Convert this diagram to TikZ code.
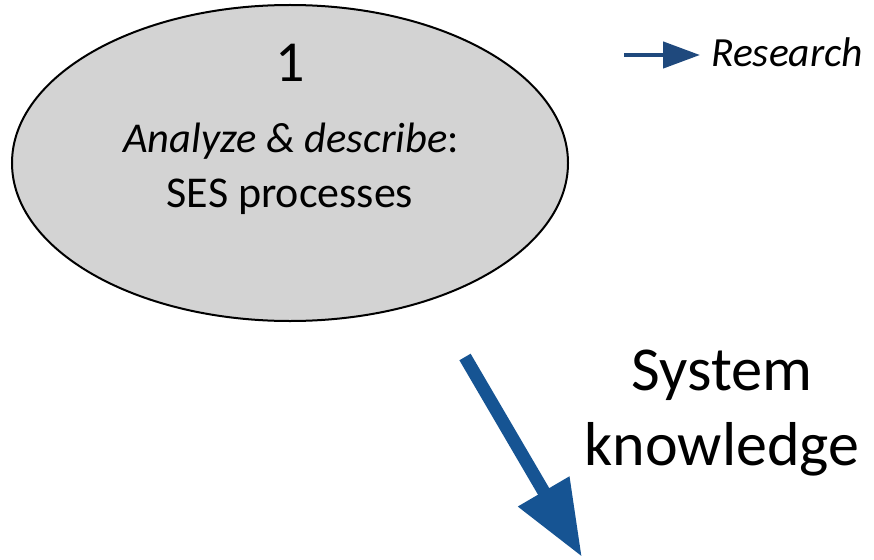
\documentclass[tikz,border=0pt]{standalone}
\usepackage{fontspec}
\setmainfont{Carlito}
\usetikzlibrary{arrows.meta}
\definecolor{ellfill}{RGB}{211,211,211}
\definecolor{bigblue}{RGB}{22,84,147}
\definecolor{legblue}{RGB}{31,73,125}
\tikzset{
  txt/.style={anchor=base, inner sep=0pt, text=black},
  bigarrow/.style={draw=bigblue, line width=13pt, -{Triangle[length=76pt,width=56pt]}},
  legarrow/.style={draw=legblue, line width=4.5pt, -{Triangle[length=37pt,width=26pt]}},
}
\begin{document}
\begin{tikzpicture}[x=1pt,y=-1pt]
\useasboundingbox (0,0) rectangle (874,559);
% ellipse
\draw[line width=2pt, fill=ellfill] (290,163) ellipse [x radius=278, y radius=158];
\node (one) [txt, font=\fontsize{58}{60}\selectfont] at (290,82) {1};
\node (ana) [txt, font=\fontsize{42.5}{46}\selectfont] at (291,152) {\textit{Analyze \& describe}:};
\node (ses) [txt, font=\fontsize{44}{46}\selectfont] at (290,207) {SES processes};
% legend
\coordinate (ls) at (624,55);
\coordinate (le) at (700,55);
\draw[legarrow] (ls) -- (le);
\node (res) [txt, anchor=base west, font=\fontsize{41.5}{44}\selectfont\itshape] at (711,67) {Research};
% big arrow
\coordinate (bs) at (465,357);
\coordinate (be) at (582,557);
\draw[bigarrow] (bs) -- (be);
\node (sys) [txt, font=\fontsize{62.5}{64}\selectfont] at (722,390) {System};
\node (kn) [txt, font=\fontsize{62}{64}\selectfont] at (722,465) {knowledge};
\end{tikzpicture}
\end{document}
